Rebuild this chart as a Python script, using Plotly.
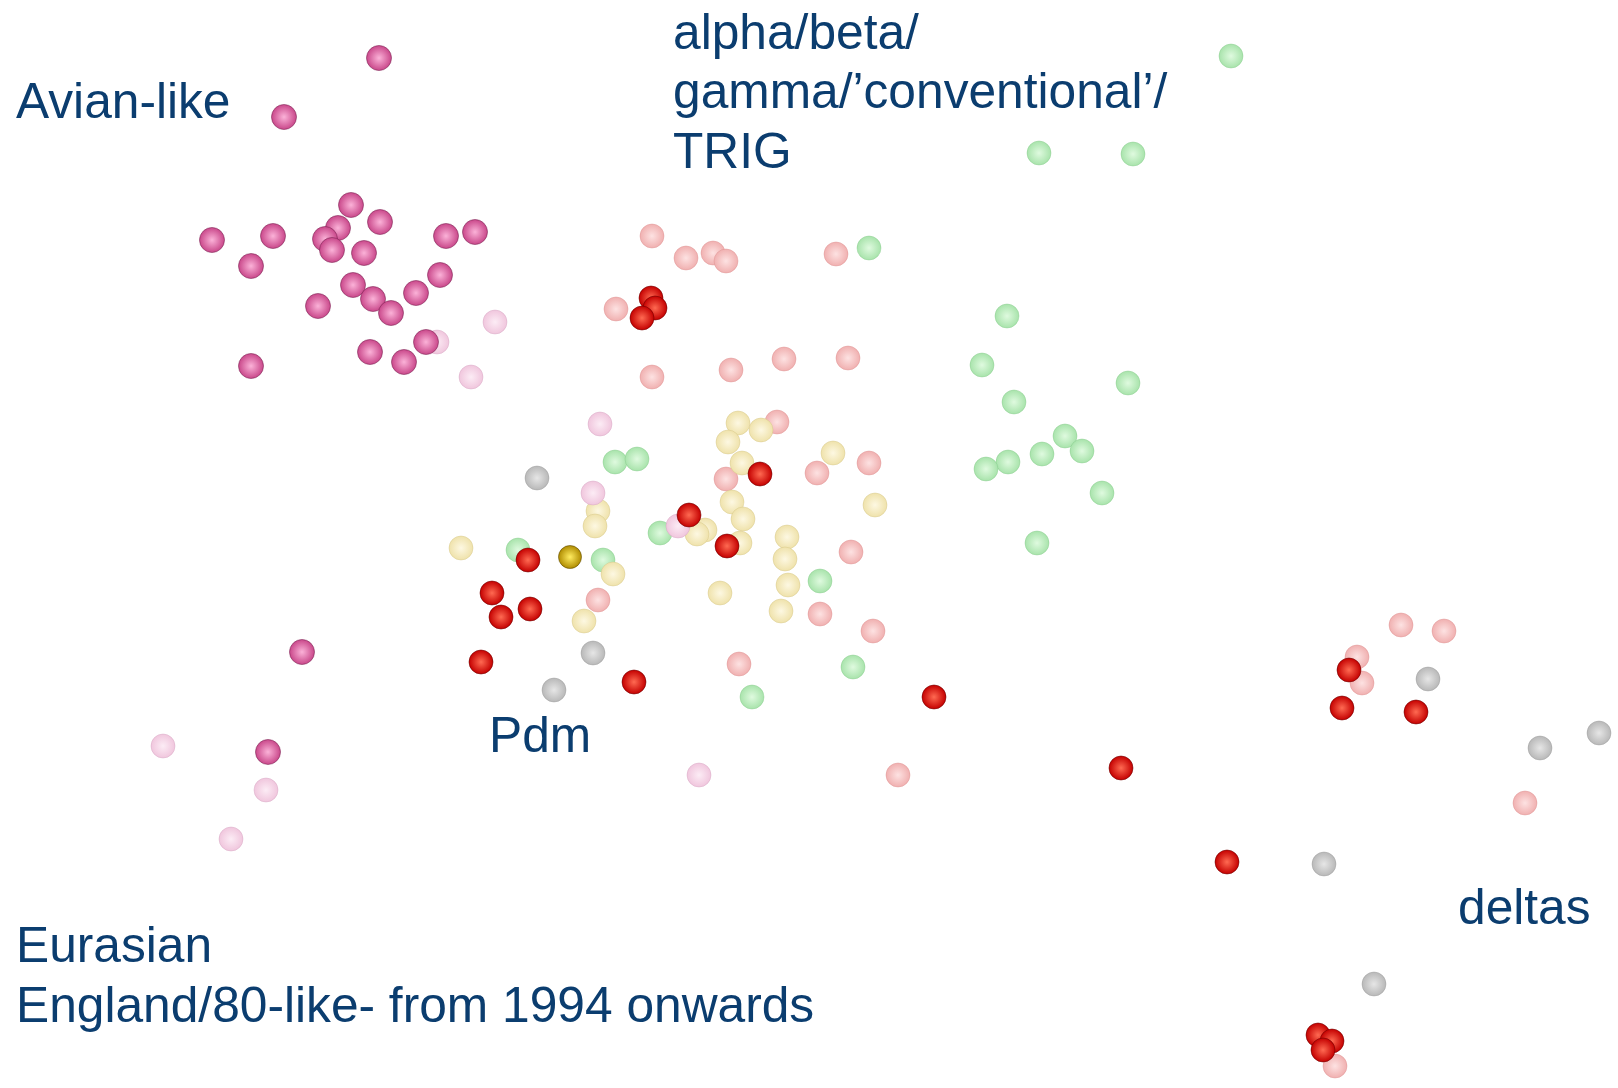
import plotly.graph_objects as go

# Map coordinates of each strain group (x to the right, y downwards)
avian_x = [379, 284, 212, 273, 251, 351, 380, 338, 325, 332, 364, 446, 475, 440,
           353, 373, 391, 416, 318, 251, 370, 404, 426, 302, 268]
avian_y = [58, 117, 240, 236, 266, 205, 222, 228, 239, 250, 253, 236, 232, 275,
           285, 299, 313, 293, 306, 366, 352, 362, 342, 652, 752]

eurasian_x = [495, 437, 471, 600, 593, 678, 163, 266, 231, 699]
eurasian_y = [322, 342, 377, 424, 493, 526, 746, 790, 839, 775]

classical_x = [1231, 1039, 1133, 869, 1007, 982, 1128, 1014, 1065, 1082, 1042, 1008,
               986, 1102, 1037, 615, 637, 660, 518, 603, 820, 853, 752]
classical_y = [56, 153, 154, 248, 316, 365, 383, 402, 436, 451, 454, 462,
               469, 493, 543, 462, 459, 533, 550, 560, 581, 667, 697]

pdm_x = [738, 761, 728, 742, 732, 743, 740, 705, 697, 787, 785, 788, 781, 720,
         833, 875, 598, 595, 613, 584, 461]
pdm_y = [423, 430, 442, 463, 502, 519, 543, 530, 534, 537, 559, 585, 611, 593,
         453, 505, 511, 526, 574, 621, 548]

delta_x = [652, 686, 713, 726, 836, 616, 652, 731, 784, 848, 777, 726, 817, 869,
           851, 598, 820, 873, 739, 898, 1401, 1444, 1357, 1362, 1525, 1335]
delta_y = [236, 258, 253, 261, 254, 309, 377, 370, 359, 358, 422, 479, 473, 463,
           552, 600, 614, 631, 664, 775, 625, 631, 657, 683, 803, 1066]

other_x = [537, 593, 554, 1428, 1540, 1599, 1324, 1374]
other_y = [478, 653, 690, 679, 748, 733, 864, 984]

recent_x = [651, 655, 642, 760, 689, 727, 528, 492, 501, 530, 481, 634, 934, 1121,
            1227, 1349, 1342, 1416, 1318, 1332, 1323]
recent_y = [298, 308, 318, 474, 515, 546, 560, 593, 617, 609, 662, 682, 697, 768,
            862, 670, 708, 712, 1035, 1041, 1050]

vaccine_x = [570]
vaccine_y = [557]

# Cluster labels: (text, x, baseline y)
label_text = ["Avian-like", "alpha/beta/", "gamma/\u2019conventional\u2019/", "TRIG",
              "Pdm", "deltas", "Eurasian", "England/80-like- from 1994 onwards"]
label_x = [14, 671, 671, 671, 487, 1456, 14, 14]
label_y = [118, 49, 108, 168, 752, 924, 962, 1022]

FONT_SIZE = 49.7
TEXT_COLOR = "#0b3d6f"


def spheres(x, y, center, edge, rim, size=24, name=""):
    # radial gradient: light centre fading to the darker edge colour
    return go.Scatter(
        x=x, y=y, mode="markers", name=name, hoverinfo="skip",
        marker=dict(
            size=size, color=edge,
            gradient=dict(type="radial", color=center),
            line=dict(width=0.8, color=rim),
        ),
    )


fig = go.Figure()
# pale (background) groups first
fig.add_trace(spheres(other_x, other_y, "#e6e6e6", "#b8b8b8", "rgba(150,150,150,0.5)", name="other"))
fig.add_trace(spheres(delta_x, delta_y, "#fde2e2", "#f0b0b0", "rgba(220,140,140,0.5)", name="delta"))
fig.add_trace(spheres(classical_x, classical_y, "#dffadf", "#a8e3ab", "rgba(130,200,135,0.5)", name="classical"))
fig.add_trace(spheres(pdm_x, pdm_y, "#fdf8e2", "#efe2ab", "rgba(210,195,130,0.5)", name="pdm"))
fig.add_trace(spheres(eurasian_x, eurasian_y, "#fcecf5", "#f0c6dd", "rgba(210,160,190,0.5)", name="eurasian"))
# highlighted groups on top
fig.add_trace(spheres(avian_x, avian_y, "#fbb2d8", "#c9478a", "rgba(120,35,80,0.7)", size=25, name="avian"))
fig.add_trace(spheres(recent_x, recent_y, "#ff6a52", "#c40000", "rgba(110,0,0,0.7)", name="recent"))
fig.add_trace(spheres(vaccine_x, vaccine_y, "#ffec60", "#b08c00", "rgba(90,70,0,0.7)", size=23, name="vaccine"))

for t, lx, ly in zip(label_text, label_x, label_y):
    fig.add_annotation(
        x=lx, y=ly - 0.34 * FONT_SIZE, text=t, showarrow=False,
        xanchor="left", yanchor="middle", xref="x", yref="y",
        font=dict(family="Liberation Sans, Arial, sans-serif", size=FONT_SIZE, color=TEXT_COLOR),
    )

fig.update_layout(
    width=1618, height=1088,
    margin=dict(l=0, r=0, t=0, b=0),
    paper_bgcolor="white", plot_bgcolor="white",
    showlegend=False,
    xaxis=dict(range=[0, 1618], visible=False, fixedrange=True),
    yaxis=dict(range=[1088, 0], visible=False, fixedrange=True),
)

fig.write_html("out.html", config={"displayModeBar": False})
